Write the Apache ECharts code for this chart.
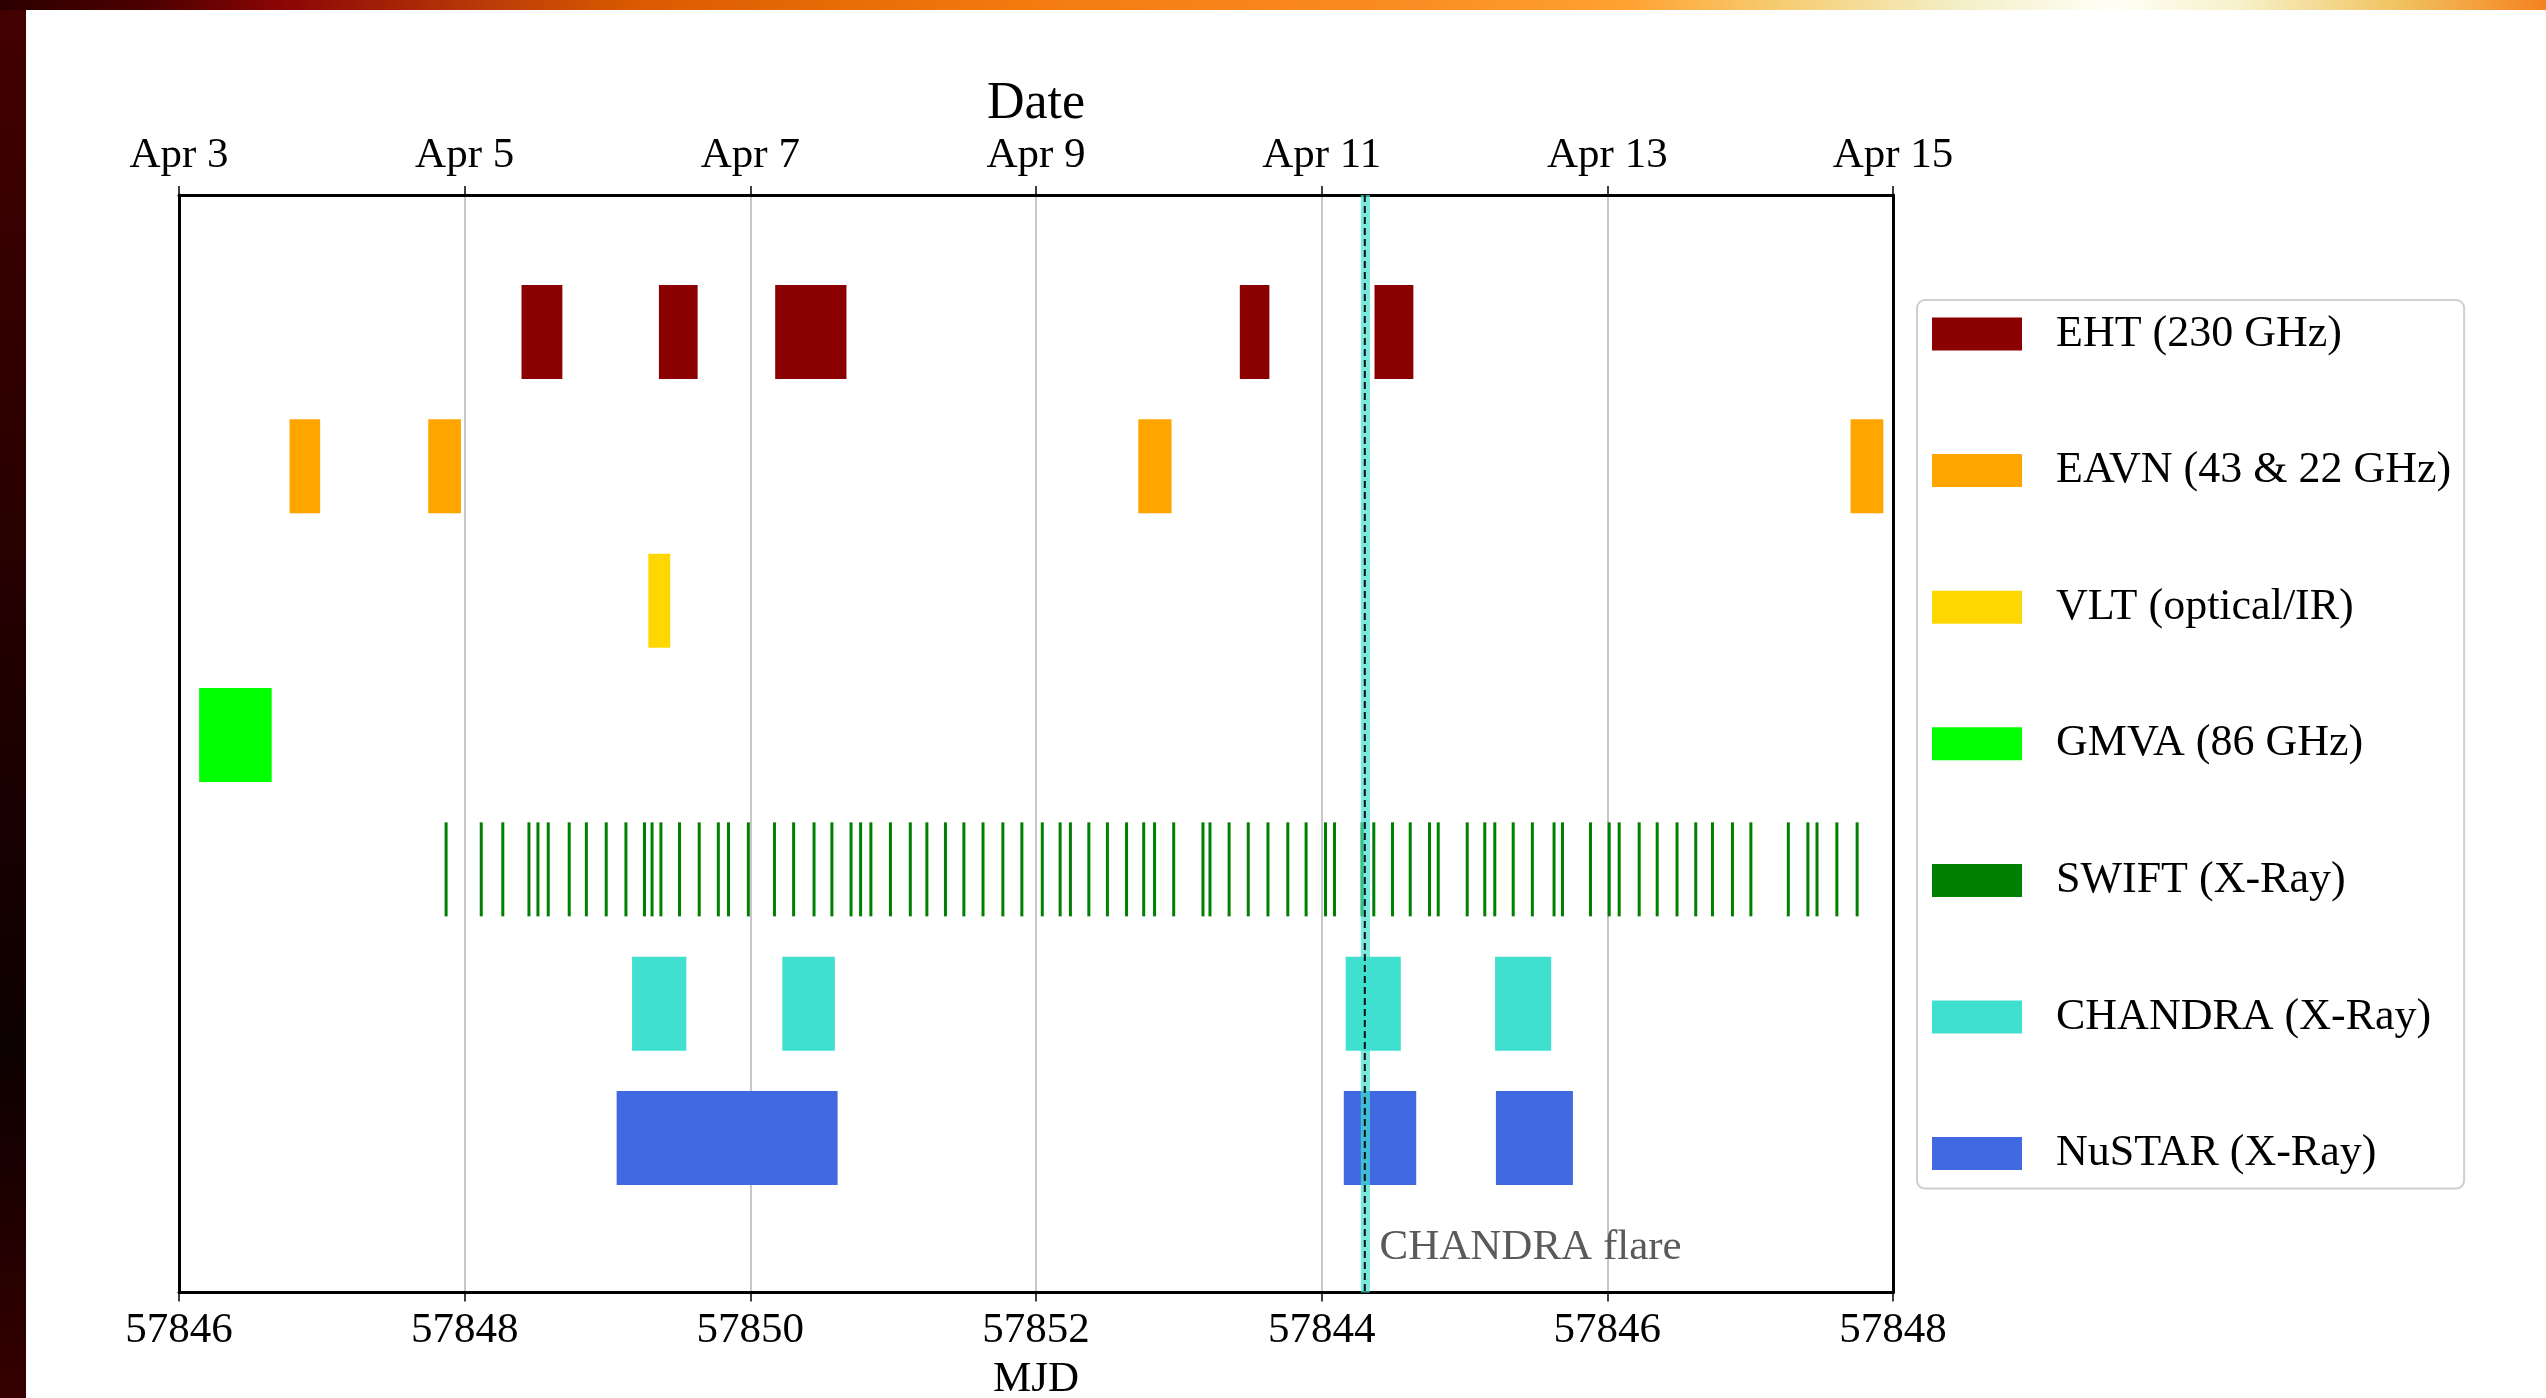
<!DOCTYPE html>
<html>
<head>
<meta charset="utf-8">
<script src="https://cdn.jsdelivr.net/npm/echarts@6/dist/echarts.min.js"></script>
<style>
  html, body { margin: 0; padding: 0; background: #ffffff; }
  #c { width: 2546px; height: 1398px; }
</style>
</head>
<body>
<div id="c"></div>
<script>
// ---------------- data (MJD) ----------------
const instruments = ['EHT (230 GHz)', 'EAVN (43 & 22 GHz)', 'VLT (optical/IR)', 'GMVA (86 GHz)',
                     'SWIFT (X-Ray)', 'CHANDRA (X-Ray)', 'NuSTAR (X-Ray)'];
const colors = ['#8b0000', '#ffa500', '#ffd700', '#00ff00', '#008000', '#40e0d0', '#4169e1'];
const rows = [6, 5, 4, 3, 2, 1, 0];

const eht = [[57848.398, 57848.684], [57849.360, 57849.631], [57850.174, 57850.673],
             [57853.427, 57853.634], [57854.370, 57854.642]];
const eavn = [[57846.774, 57846.988], [57847.745, 57847.974], [57852.716, 57852.949],
              [57857.703, 57857.932]];
const vlt = [[57849.286, 57849.439]];
const gmva = [[57846.141, 57846.649]];
const swift = [57847.870, 57848.116, 57848.267, 57848.450, 57848.513, 57848.585, 57848.732,
  57848.852, 57848.991, 57849.129, 57849.259, 57849.312, 57849.374, 57849.504, 57849.642,
  57849.776, 57849.847, 57849.986, 57850.169, 57850.303, 57850.446, 57850.571, 57850.705,
  57850.772, 57850.844, 57850.981, 57851.120, 57851.236, 57851.366, 57851.495, 57851.629,
  57851.768, 57851.901, 57852.044, 57852.169, 57852.241, 57852.370, 57852.500, 57852.634,
  57852.754, 57852.830, 57852.964, 57853.169, 57853.218, 57853.352, 57853.486, 57853.624,
  57853.763, 57853.891, 57854.027, 57854.090, 57854.283, 57854.365, 57854.496, 57854.620,
  57854.755, 57854.816, 57855.019, 57855.142, 57855.212, 57855.341, 57855.475, 57855.627,
  57855.686, 57855.882, 57856.013, 57856.083, 57856.223, 57856.349, 57856.488, 57856.619,
  57856.736, 57856.876, 57857.005, 57857.267, 57857.404, 57857.468, 57857.607, 57857.749];
const chandra = [[57849.172, 57849.552], [57850.224, 57850.592], [57854.168, 57854.554],
                 [57855.214, 57855.607]];
const nustar = [[57849.064, 57850.611], [57854.155, 57854.662], [57855.220, 57855.759]];

const flareTime = 57854.302;
const flareBand = [57854.274, 57854.338];
const flareLabel = 'CHANDRA flare';
const flareLabelPos = [57854.405, -0.82];

const xMin = 57846, xMax = 57858, xStep = 2;
const yMin = -1.15, yMax = 7.02;
const dateTickLabels = ['Apr 3', 'Apr 5', 'Apr 7', 'Apr 9', 'Apr 11', 'Apr 13', 'Apr 15'];
const mjdTickLabels = ['57846', '57848', '57850', '57852', '57844', '57846', '57848'];
const topAxisTitle = 'Date';
const bottomAxisTitle = 'MJD';

// ---------------- chart ----------------
const FONT = '"Liberation Serif", "Times New Roman", serif';
const BAR_HALF = 0.35;
const SWIFT_PX = 3;

function rectSeries(name, color, row, intervals) {
  return {
    type: 'custom', name: name, coordinateSystem: 'cartesian2d', xAxisIndex: 0, yAxisIndex: 0,
    itemStyle: { color: color }, z: 3,
    data: intervals.map(d => [d[0], d[1], row]),
    renderItem: function (params, api) {
      const p0 = api.coord([api.value(0), api.value(2) + BAR_HALF]);
      const p1 = api.coord([api.value(1), api.value(2) - BAR_HALF]);
      return { type: 'rect', shape: { x: p0[0], y: p0[1], width: p1[0] - p0[0], height: p1[1] - p0[1] },
               style: { fill: color } };
    }
  };
}

const series = [
  rectSeries(instruments[0], colors[0], rows[0], eht),
  rectSeries(instruments[1], colors[1], rows[1], eavn),
  rectSeries(instruments[2], colors[2], rows[2], vlt),
  rectSeries(instruments[3], colors[3], rows[3], gmva),
  {
    type: 'custom', name: instruments[4], coordinateSystem: 'cartesian2d',
    itemStyle: { color: colors[4] }, z: 3,
    data: swift.map(t => [t, rows[4]]),
    renderItem: function (params, api) {
      const p0 = api.coord([api.value(0), api.value(1) + BAR_HALF]);
      const p1 = api.coord([api.value(0), api.value(1) - BAR_HALF]);
      return { type: 'rect', shape: { x: p0[0] - SWIFT_PX / 2, y: p0[1], width: SWIFT_PX, height: p1[1] - p0[1] },
               style: { fill: colors[4] } };
    }
  },
  rectSeries(instruments[5], colors[5], rows[5], chandra),
  rectSeries(instruments[6], colors[6], rows[6], nustar),
  {
    type: 'custom', name: 'flareBand', coordinateSystem: 'cartesian2d', z: 5, silent: true,
    data: [[flareBand[0], flareBand[1]]],
    renderItem: function (params, api) {
      const a = api.coord([api.value(0), 0]);
      const b = api.coord([api.value(1), 0]);
      const cs = params.coordSys;
      return { type: 'rect', shape: { x: a[0], y: cs.y, width: b[0] - a[0], height: cs.height },
               style: { fill: 'rgba(64,224,208,0.7)' } };
    }
  },
  {
    type: 'custom', name: 'flareLine', coordinateSystem: 'cartesian2d', z: 6, silent: true,
    data: [[flareTime]],
    renderItem: function (params, api) {
      const a = api.coord([api.value(0), 0]);
      const cs = params.coordSys;
      return { type: 'line', shape: { x1: a[0], y1: cs.y, x2: a[0], y2: cs.y + cs.height },
               style: { stroke: '#111111', lineWidth: 2, lineDash: [7, 4] } };
    }
  },
  {
    type: 'custom', name: 'flareText', coordinateSystem: 'cartesian2d', z: 6, silent: true,
    data: [flareLabelPos],
    renderItem: function (params, api) {
      const a = api.coord([api.value(0), api.value(1)]);
      return { type: 'text', x: a[0], y: a[1],
               style: { text: flareLabel, fill: '#5a5a5a', font: '43px ' + FONT,
                        align: 'left', verticalAlign: 'middle' } };
    }
  }
];

const frameAxis = (pos) => ({
  type: 'value', position: pos, min: yMin, max: yMax,
  axisLine: { show: true, onZero: false, lineStyle: { color: '#000000', width: 3 } },
  axisTick: { show: false }, axisLabel: { show: false }, splitLine: { show: false }
});

const chart = echarts.init(document.getElementById('c'), null, { renderer: 'canvas' });
chart.setOption({
  animation: false,
  backgroundColor: '#ffffff',
  title: {
    text: topAxisTitle, left: 1036, top: 78, textAlign: 'center', padding: 0,
    textStyle: { fontFamily: FONT, fontSize: 52, fontWeight: 'normal', color: '#000000' }
  },
  graphic: [
    { type: 'rect', left: 0, top: 0, z: 100, silent: true,
      shape: { width: 26, height: 1398 },
      style: { fill: new echarts.graphic.LinearGradient(0, 0, 0, 1, [
        { offset: 0, color: '#440000' }, { offset: 0.45, color: '#230000' },
        { offset: 0.75, color: '#0c0000' }, { offset: 1, color: '#360000' }]) } },
    { type: 'rect', left: 0, top: 0, z: 101, silent: true,
      shape: { width: 2546, height: 10 },
      style: { fill: new echarts.graphic.LinearGradient(0, 0, 1, 0, [
        { offset: 0, color: '#2b0000' }, { offset: 0.06, color: '#4e0000' },
        { offset: 0.11, color: '#8a0505' }, { offset: 0.19, color: '#bb3a08' },
        { offset: 0.25, color: '#da5b00' }, { offset: 0.40, color: '#f47a0e' },
        { offset: 0.55, color: '#fa8c24' }, { offset: 0.64, color: '#ffa232' },
        { offset: 0.70, color: '#f6cd72' }, { offset: 0.77, color: '#f3efc8' },
        { offset: 0.83, color: '#fffff8' }, { offset: 0.88, color: '#f6f1c8' },
        { offset: 0.94, color: '#f1c463' }, { offset: 1, color: '#f5821e' }]) } }
  ],
  grid: { left: 179, top: 195, width: 1714, height: 1097.5, show: false,
          containLabel: false, outerBoundsMode: 'none' },
  legend: {
    orient: 'vertical', left: 1917, top: 300,
    padding: [12, 13, 13, 15],
    itemWidth: 90, itemHeight: 33, itemGap: 92.6,
    icon: 'rect',
    borderColor: '#cfcfcf', borderWidth: 2, borderRadius: 8,
    textStyle: { fontFamily: FONT, fontSize: 44, color: '#000000', padding: [0, 0, 0, 29] },
    data: instruments
  },
  xAxis: [
    {
      type: 'value', position: 'bottom', min: xMin, max: xMax, interval: xStep,
      axisLine: { show: true, onZero: false, lineStyle: { color: '#000000', width: 3 } },
      axisTick: { show: true, inside: false, length: 9, lineStyle: { color: '#000000', width: 1.5 } },
      axisLabel: { formatter: v => mjdTickLabels[Math.round((v - xMin) / xStep)],
                   fontFamily: FONT, fontSize: 43, color: '#000000', margin: 17 },
      splitLine: { show: true, lineStyle: { color: '#b4b4b4', width: 1.5 } },
      name: bottomAxisTitle, nameLocation: 'middle', nameGap: 66,
      nameTextStyle: { fontFamily: FONT, fontSize: 43, color: '#000000' }
    },
    {
      type: 'value', position: 'top', min: xMin, max: xMax, interval: xStep,
      axisLine: { show: true, onZero: false, lineStyle: { color: '#000000', width: 3 } },
      axisTick: { show: true, inside: false, length: 9, lineStyle: { color: '#000000', width: 1.5 } },
      axisLabel: { formatter: v => dateTickLabels[Math.round((v - xMin) / xStep)],
                   fontFamily: FONT, fontSize: 43, color: '#000000', margin: 18 },
      splitLine: { show: false }
    }
  ],
  yAxis: [frameAxis('left'), frameAxis('right')],
  series: series
});
</script>
</body>
</html>
